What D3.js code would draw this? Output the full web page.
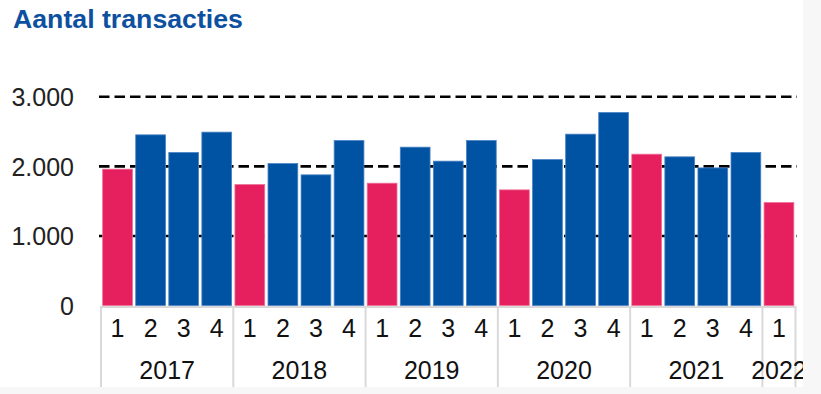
<!DOCTYPE html>
<html>
<head>
<meta charset="utf-8">
<script src="https://cdn.jsdelivr.net/npm/d3@7"></script>
<style>
  html, body { margin: 0; padding: 0; background: #f7f7f7; }
  svg { display: block; }
</style>
</head>
<body>
<script>
const title = "Aantal transacties";
const years = ["2017", "2018", "2019", "2020", "2021", "2022"];
const quarters = ["1", "2", "3", "4"];
const values = [
  1960, 2453, 2199, 2492,
  1738, 2040, 1878, 2371,
  1758, 2276, 2075, 2371,
  1662, 2098, 2463, 2774,
  2175, 2137, 1978, 2199,
  1480
];
const yTicks = [0, 1000, 2000, 3000];

const W = 821, H = 394;
const pinkColor = "#e61f5f", blueColor = "#0053a2";

const cats = values.map((v, i) => ({
  key: years[Math.floor(i / 4)] + "-" + quarters[i % 4],
  year: years[Math.floor(i / 4)],
  q: quarters[i % 4],
  v
}));

const svg = d3.select("body").append("svg").attr("width", W).attr("height", H);
svg.append("rect").attr("width", 803).attr("height", 387).attr("fill", "#ffffff");

const x = d3.scaleBand().domain(cats.map(d => d.key)).range([101, 795.5]).paddingInner(0.1).paddingOuter(0.05);
const y = d3.scaleLinear().domain([0, 3000]).range([305.5, 96.8]);

const nl = d3.formatLocale({decimal: ",", thousands: ".", grouping: [3], currency: ["€", ""]});
const fmt = nl.format(",");

// title
svg.append("text").attr("x", 13).attr("y", 28)
  .attr("font-family", "Liberation Sans, Arial, sans-serif").attr("font-weight", "bold")
  .attr("font-size", 26.7).attr("fill", "#0d50a0").text(title);

// gridlines
svg.append("g").selectAll("line").data(yTicks.filter(t => t > 0)).join("line")
  .attr("x1", 99).attr("x2", 797)
  .attr("y1", d => y(d)).attr("y2", d => y(d))
  .attr("stroke", "#000").attr("stroke-width", 2.6).attr("stroke-dasharray", "10.5,5");

// y labels
const yAxis = d3.axisLeft(y).tickValues(yTicks).tickFormat(fmt).tickSize(0).tickPadding(0);
const ya = svg.append("g").attr("transform", "translate(74,0)").call(yAxis);
ya.select(".domain").remove();
ya.selectAll("text").attr("font-family", "Liberation Sans, Arial, sans-serif")
  .attr("font-size", 25).attr("fill", "#222").attr("dy", "0.36em");

// bars
svg.append("g").selectAll("rect").data(cats).join("rect")
  .attr("x", d => x(d.key)).attr("width", x.bandwidth())
  .attr("y", d => y(d.v)).attr("height", d => y(0) - y(d.v))
  .attr("fill", d => d.q === "1" ? pinkColor : blueColor)
  .attr("stroke", d => d.q === "1" ? "#ee6f97" : "#4a82c4").attr("stroke-width", 0.8);

// category box
const boxTop = 307, boxBot = 387;
const g = svg.append("g");
g.append("line").attr("x1", 100).attr("x2", 796.5).attr("y1", boxTop).attr("y2", boxTop)
  .attr("stroke", "#d9d9d9").attr("stroke-width", 2);
const step = x.step();
const groupStarts = years.map(yr => {
  const idx = cats.findIndex(c => c.year === yr);
  return x(cats[idx].key) - x.paddingInner() * step / 2;
});
const lastEnd = x(cats[cats.length - 1].key) + x.bandwidth() + x.paddingInner() * step / 2;
const bounds = groupStarts.concat([lastEnd]);
g.selectAll("line.sep").data(bounds).join("line").attr("class", "sep")
  .attr("x1", d => d).attr("x2", d => d).attr("y1", boxTop).attr("y2", boxBot)
  .attr("stroke", "#d9d9d9").attr("stroke-width", 2);

// quarter labels
g.selectAll("text.q").data(cats).join("text").attr("class", "q")
  .attr("x", d => x(d.key) + x.bandwidth() / 2).attr("y", 328).attr("dy", "0.36em")
  .attr("text-anchor", "middle").attr("font-family", "Liberation Sans, Arial, sans-serif")
  .attr("font-size", 25).attr("fill", "#111").text(d => d.q);

// year labels
g.selectAll("text.yr").data(years).join("text").attr("class", "yr")
  .attr("x", (d, i) => (bounds[i] + bounds[i + 1]) / 2).attr("y", 370).attr("dy", "0.36em")
  .attr("text-anchor", "middle").attr("font-family", "Liberation Sans, Arial, sans-serif")
  .attr("font-size", 25).attr("fill", "#111").text(d => d);

// right/bottom gray panel over overflow
svg.append("rect").attr("x", 803).attr("y", 0).attr("width", W - 803).attr("height", H).attr("fill", "#f7f7f7");
svg.append("rect").attr("x", 0).attr("y", 387).attr("width", W).attr("height", H - 387).attr("fill", "#f7f7f7");
</script>
</body>
</html>
